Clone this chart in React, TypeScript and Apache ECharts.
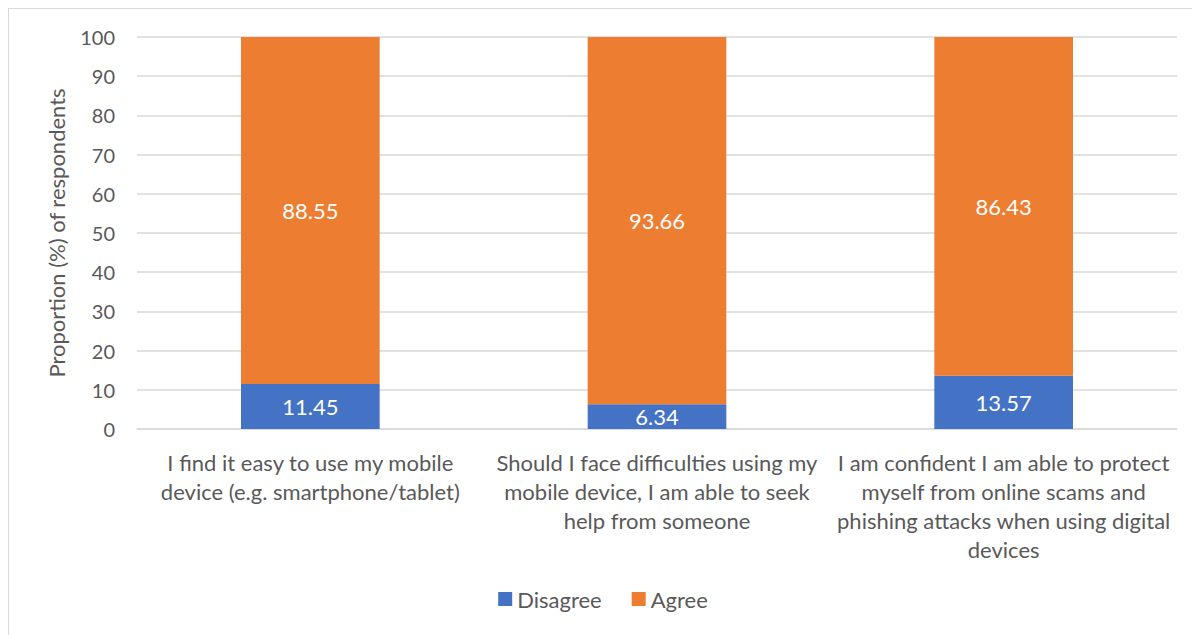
import React, { useEffect, useRef } from "react";
import * as echarts from "echarts";

const categories = [
  "I find it easy to use my mobile\ndevice (e.g. smartphone/tablet)",
  "Should I face difficulties using my\nmobile device, I am able to seek\nhelp from someone",
  "I am confident I am able to protect\nmyself from online scams and\nphishing attacks when using digital\ndevices",
];
const disagree = [11.45, 6.34, 13.57];
const agree = [88.55, 93.66, 86.43];
const seriesNames = ["Disagree", "Agree"];
const yAxisName = "Proportion (%) of respondents";

const FONT = "Lato, 'Open Sans', sans-serif";
const TXT = "#595959";

export default function App() {
  const ref = useRef<HTMLDivElement>(null);
  useEffect(() => {
    const chart = echarts.init(ref.current!, null, { renderer: "svg" });
    const label = {
      show: true,
      position: "inside",
      color: "#ffffff",
      fontSize: 22,
      fontFamily: FONT,
      formatter: (p: any) => p.value.toFixed(2),
    };
    chart.setOption({
      animation: false,
      textStyle: { fontFamily: FONT },
      grid: { left: 128, right: 20, top: 28, height: 392, containLabel: false },
      legend: {
        bottom: 34,
        left: "center",
        itemWidth: 14,
        itemHeight: 14,
        itemGap: 30,
        icon: "rect",
        textStyle: { color: TXT, fontSize: 22, fontFamily: FONT },
        data: seriesNames,
      },
      xAxis: {
        type: "category",
        data: categories,
        axisTick: { show: false },
        axisLine: { show: true, lineStyle: { color: "#d9d9d9", width: 1.5 } },
        axisLabel: {
          color: TXT,
          fontSize: 22,
          fontFamily: FONT,
          lineHeight: 29,
          margin: 19,
          interval: 0,
        },
      },
      yAxis: {
        type: "value",
        min: 0,
        max: 100,
        interval: 10,
        name: yAxisName,
        nameLocation: "middle",
        nameGap: 70,
        nameTextStyle: { color: TXT, fontSize: 22, fontFamily: FONT },
        axisLine: { show: false },
        axisTick: { show: false },
        axisLabel: { color: TXT, fontSize: 20, fontFamily: FONT, margin: 22 },
        splitLine: { lineStyle: { color: "#d9d9d9", width: 1.5 } },
      },
      series: [
        {
          name: seriesNames[0],
          type: "bar",
          stack: "total",
          data: disagree,
          barWidth: "40%",
          itemStyle: { color: "#4472C4" },
          label,
        },
        {
          name: seriesNames[1],
          type: "bar",
          stack: "total",
          data: agree,
          barWidth: "40%",
          itemStyle: { color: "#ED7D31" },
          label,
        },
      ],
    });
    return () => chart.dispose();
  }, []);
  return (
    <div style={{ border: "1.5px solid #d9d9d9", width: 1188, height: 640 }}>
      <div ref={ref} style={{ width: 1188, height: 640 }} />
    </div>
  );
}
